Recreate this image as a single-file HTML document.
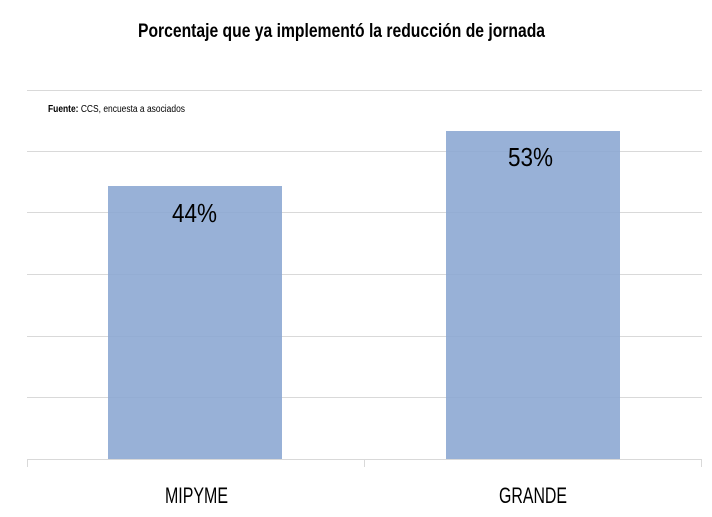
<!DOCTYPE html>
<html><head><style>html,body{margin:0;padding:0;background:#fff;}svg{display:block}</style></head>
<body>
<svg width="712" height="517" viewBox="0 0 712 517" xmlns="http://www.w3.org/2000/svg" font-family="Liberation Sans, sans-serif">
<rect width="712" height="517" fill="#fff"/>
<g stroke="#d9d9d9" stroke-width="1">
<line x1="27" y1="90.5" x2="702" y2="90.5"/>
<line x1="27" y1="151.5" x2="702" y2="151.5"/>
<line x1="27" y1="212.5" x2="702" y2="212.5"/>
<line x1="27" y1="274.5" x2="702" y2="274.5"/>
<line x1="27" y1="336.5" x2="702" y2="336.5"/>
<line x1="27" y1="397.5" x2="702" y2="397.5"/>
</g>
<rect x="108" y="186" width="174" height="273" fill="#8aa6d1" fill-opacity="0.88"/>
<rect x="446" y="131" width="174" height="328" fill="#8aa6d1" fill-opacity="0.88"/>
<g stroke="#d9d9d9" stroke-width="1">
<line x1="27" y1="459.5" x2="702" y2="459.5"/>
<line x1="27.5" y1="459" x2="27.5" y2="467"/>
<line x1="364.5" y1="459" x2="364.5" y2="467"/>
<line x1="701.5" y1="459" x2="701.5" y2="467"/>
</g>
<text x="138" y="37" font-size="19" font-weight="bold" textLength="407" lengthAdjust="spacingAndGlyphs" fill="#000">Porcentaje que ya implementó la reducción de jornada</text>
<text x="48" y="112" font-size="10" textLength="137" lengthAdjust="spacingAndGlyphs" fill="#000"><tspan font-weight="bold">Fuente:</tspan> CCS, encuesta a asociados</text>
<text x="172" y="222" font-size="26" textLength="45" lengthAdjust="spacingAndGlyphs" fill="#000">44%</text>
<text x="508" y="166" font-size="26" textLength="45" lengthAdjust="spacingAndGlyphs" fill="#000">53%</text>
<text x="165" y="503" font-size="22" textLength="63" lengthAdjust="spacingAndGlyphs" fill="#000">MIPYME</text>
<text x="499" y="503" font-size="22" textLength="68" lengthAdjust="spacingAndGlyphs" fill="#000">GRANDE</text>
</svg>
</body></html>
